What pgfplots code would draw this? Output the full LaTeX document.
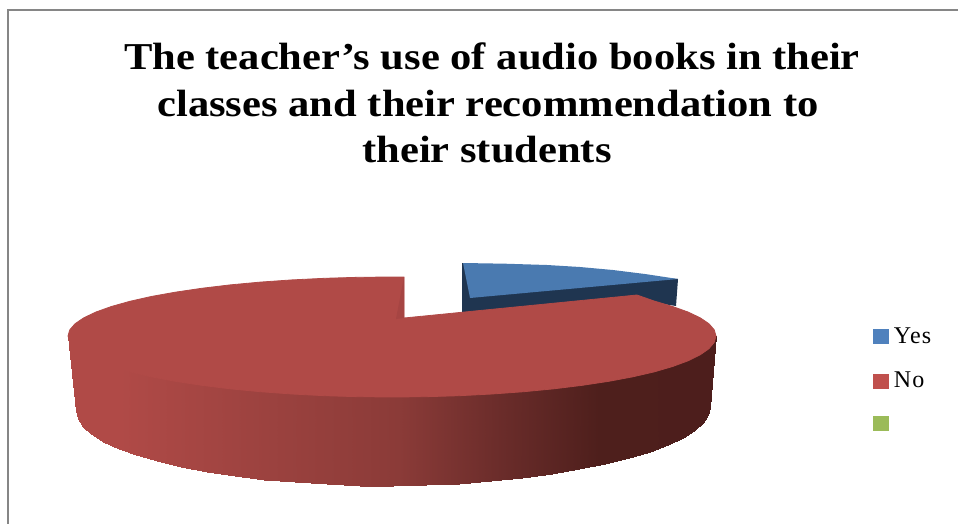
\documentclass[border=0pt]{standalone}
\usepackage{fontspec}
\setmainfont{Liberation Serif}
\newfontfamily\titlefont[FakeStretch=1.12]{Liberation Serif}
\newfontfamily\keyfont[LetterSpace=5]{Liberation Serif}
\usepackage{pgfplots}
\usepgfplotslibrary{patchplots}
\pgfplotsset{compat=1.18}
\definecolor{frameline}{HTML}{868686}
\definecolor{yesTop}{HTML}{4A7AB0}
\definecolor{yesDark}{HTML}{1F3550}
\definecolor{noTop}{HTML}{B04A47}
\definecolor{noWall}{HTML}{A64543}
\definecolor{keyYes}{HTML}{4F81BD}
\definecolor{keyNo}{HTML}{C0504D}
\definecolor{keyBlank}{HTML}{9BBB59}
\pgfplotsset{colormap={redside}{rgb255(0)=(176,74,71) rgb255(8)=(176,74,71) rgb255(28)=(158,67,64) rgb255(51)=(139,59,56) rgb255(67)=(106,44,42) rgb255(82)=(78,31,28) rgb255(100)=(77,30,28)}}
\begin{document}
\begin{tikzpicture}
\useasboundingbox (0,0) rectangle (958pt,524pt);
\begin{axis}[
  width=958pt, height=524pt, scale only axis,
  xmin=0, xmax=958, ymin=0, ymax=524, y dir=reverse,
  hide axis, axis on top=false,
  point meta min=68, point meta max=716,
  legend cell align=left,
  legend style={at={(axis cs:873,328)}, anchor=north west, draw=none, fill=none,
    font=\keyfont\fontsize{24}{24}\selectfont, row sep=27pt, inner sep=0pt, outer sep=0pt,
    nodes={inner ysep=0pt, inner xsep=5.5pt, outer sep=0pt}},
  legend image code/.code={\fill[#1] (0pt,-7pt) rectangle (15pt,7pt);},
]
% chart frame
\addplot[frameline, line width=2pt, forget plot] coordinates {(8,524) (8,10.5) (958,10.5)};

% wall of the Yes slice
\addplot[fill=yesDark, draw=none, forget plot] coordinates {
  (462,263) (678,279) (676,306) (636,300) (462,318)} -- cycle;
% top of the Yes slice
\addplot[fill=yesTop, draw=none, forget plot] coordinates {
  (463,263) (505,263.7) (547,265) (580,267) (613,270) (645,274) (678,279) (470,298)} -- cycle;

% rim of the No slice, four corners per facet; its upper edge runs under the top face
\addplot[patch, patch type=rectangle, shader=interp, point meta=x, forget plot] table {
x y
716 336
714.2 339.4
708.3 414.8
710 407
714.2 339.4
708.9 345.7
703.1 422.7
708.3 414.8
708.9 345.7
700.2 351.8
694.5 430.4
703.1 422.7
700.2 351.8
688 357.8
682.6 437.8
694.5 430.4
688 357.8
672.6 363.5
667.5 445
682.6 437.8
672.6 363.5
654.1 368.9
649.5 451.9
667.5 445
654.1 368.9
632.8 373.8
628.6 458.2
649.5 451.9
632.8 373.8
608.8 378.3
605.1 464
628.6 458.2
608.8 378.3
582.4 382.3
579.3 469.3
605.1 464
582.4 382.3
554 385.8
551.5 474
579.3 469.3
554 385.8
523.8 388.7
521.9 477.9
551.5 474
523.8 388.7
492.1 391
491 481.1
521.9 477.9
492.1 391
459.4 392.7
458.9 483.6
491 481.1
459.4 392.7
425.9 393.7
426.1 485.2
458.9 483.6
425.9 393.7
392 394
393 486
426.1 485.2
392 394
358.1 393.7
359.9 485.6
393 486
358.1 393.7
324.6 392.7
327.1 484.4
359.9 485.6
324.6 392.7
291.9 391
295 482.3
327.1 484.4
291.9 391
260.2 388.7
264.1 479.5
295 482.3
260.2 388.7
230 385.8
234.5 476
264.1 479.5
230 385.8
201.6 382.3
206.7 471.7
234.5 476
201.6 382.3
175.2 378.3
180.9 466.7
206.7 471.7
175.2 378.3
151.2 373.8
157.4 461.2
180.9 466.7
151.2 373.8
129.9 368.9
136.5 455.1
157.4 461.2
129.9 368.9
111.4 363.5
118.5 448.5
136.5 455.1
111.4 363.5
96 357.8
103.4 441.5
118.5 448.5
96 357.8
83.8 351.8
91.5 434.2
103.4 441.5
83.8 351.8
75.1 345.7
82.9 426.6
91.5 434.2
75.1 345.7
69.8 339.4
77.7 418.8
82.9 426.6
69.8 339.4
68 336
76 411
77.7 418.8
};

% top of the No slice
\addplot[fill=noTop, draw=noTop, line width=0.8pt, forget plot] coordinates {
  (404,277) (392,277) (358.1,277.3) (324.6,278.3) (291.9,279.9) (260.2,282.1)
  (230,284.9) (201.6,288.3) (175.2,292.2) (151.2,296.5) (129.9,301.3) (111.4,306.5)
  (96,312) (83.8,317.8) (75.1,323.7) (69.8,329.8) (68,336)
  (69.8,342.4) (75.1,348.7) (83.8,354.8) (96,360.8) (111.4,366.5) (129.9,371.9)
  (151.2,376.8) (175.2,381.3) (201.6,385.3) (230,388.8) (260.2,391.7) (291.9,394)
  (324.6,395.7) (358.1,396.7) (392,397) (425.9,396.7) (459.4,395.7) (492.1,394)
  (523.8,391.7) (554,388.8) (582.4,385.3) (608.8,381.3) (632.8,376.8) (654.1,371.9)
  (672.6,366.5) (688,360.8) (700.2,354.8) (708.9,348.7) (714.2,342.4) (716,336)
  (714.2,329.8) (708.9,323.7) (700.2,317.8) (688,312) (672.6,306.5) (654.1,301)
  (637,295) (404,318)} -- cycle;
% inner cut face of the No slice
\addplot[fill=noWall, draw=none, forget plot] coordinates {(404,277) (404,318) (396,319)} -- cycle;

\addlegendimage{keyYes}
\addlegendentry{Yes}
\addlegendimage{keyNo}
\addlegendentry{No}
\addlegendimage{keyBlank}
\addlegendentry{}

\node[font=\titlefont\bfseries\fontsize{38}{46}\selectfont, anchor=base, inner sep=0pt]
  at (axis cs:492,70) {The teacher’s use of audio books in their};
\node[font=\titlefont\bfseries\fontsize{38}{46}\selectfont, anchor=base, inner sep=0pt]
  at (axis cs:488,117) {classes and their recommendation to};
\node[font=\titlefont\bfseries\fontsize{38}{46}\selectfont, anchor=base, inner sep=0pt]
  at (axis cs:487,162) {their students};
\end{axis}
\end{tikzpicture}
\end{document}
